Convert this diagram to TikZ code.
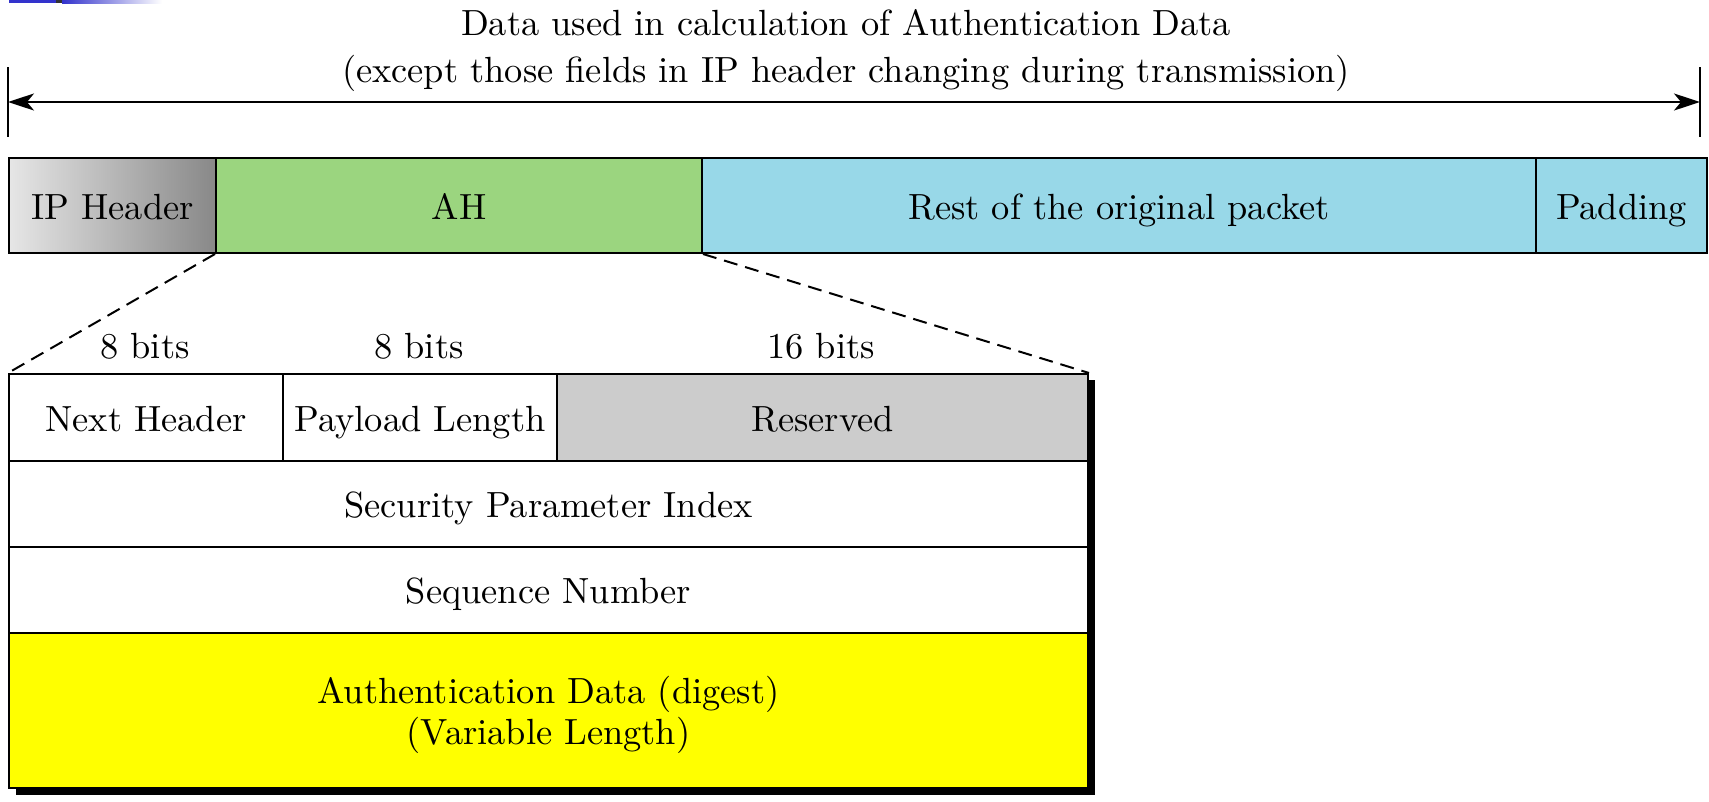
\documentclass[tikz,border=0pt]{standalone}
\usepackage{fontspec}
\setmainfont{lmroman10-regular}[Extension=.otf]
\usetikzlibrary{arrows.meta}
\definecolor{ahgreen}{RGB}{155,213,127}
\definecolor{pktblue}{RGB}{152,216,232}
\definecolor{resgray}{RGB}{204,204,204}
\definecolor{hdrlight}{RGB}{230,230,230}
\definecolor{hdrdark}{RGB}{136,136,136}
\definecolor{barblue}{RGB}{51,51,204}
\definecolor{digestyellow}{RGB}{255,255,0}
\begin{document}
\begin{tikzpicture}[x=1pt,y=-1pt,
  lbl/.style={font=\fontsize{36.4}{41}\selectfont, text height=27pt, text depth=0pt, inner sep=0pt},
  field/.style={lbl, draw=black, line width=2pt, anchor=north west},
  tick/.style={line width=2pt},
  span/.style={line width=2pt, {Stealth[length=26pt,width=17pt,inset=7pt]}-{Stealth[length=26pt,width=17pt,inset=7pt]}},
  zoomline/.style={line width=2pt, dash pattern=on 14pt off 8pt}]
\useasboundingbox (0,0) rectangle (1709,801);

% slide ribbon in the corner
\fill[barblue] (9,0) rectangle (56,3);
\fill[black!80] (56,0) rectangle (62,3);
\shade[left color=barblue, right color=white] (62,0) rectangle (162,3);

% span arrow with its end ticks
\coordinate (lt1) at (8,67);  \coordinate (lt2) at (8,137);
\coordinate (rt1) at (1700,67); \coordinate (rt2) at (1700,137);
\coordinate (la) at (8,102); \coordinate (ra) at (1700,102);
\draw[tick] (lt1) -- (lt2);
\draw[tick] (rt1) -- (rt2);
\draw[span] (la) -- (ra);
\node[lbl, align=center, font=\fontsize{36.4}{47}\selectfont, text height=74pt] (title) at (846,45)
  {Data used in calculation of Authentication Data\\(except those fields in IP header changing during transmission)};

% packet
\node[field, minimum width=207pt, minimum height=95pt,
      left color=hdrlight, right color=hdrdark] (ip) at (8,157) {IP Header};
\node[field, fill=ahgreen, minimum width=486pt, minimum height=95pt] (ah) at (215,157) {AH};
\node[field, fill=pktblue, minimum width=834pt, minimum height=95pt] (rest) at (701,157) {Rest of the original packet};
\node[field, fill=pktblue, minimum width=171pt, minimum height=95pt] (pad) at (1535,157) {Padding};

% AH header layout
\fill[black] (16,380) rectangle (1095,795);
\node[field, fill=white, minimum width=274pt, minimum height=87pt] (nh) at (8,373) {Next Header};
\node[field, fill=white, minimum width=274pt, minimum height=87pt] (pl) at (282,373) {Payload Length};
\node[field, fill=resgray, minimum width=531pt, minimum height=87pt] (res) at (556,373) {Reserved};
\node[field, fill=white, minimum width=1079pt, minimum height=86pt] (spi) at (8,460) {Security Parameter Index};
\node[field, fill=white, minimum width=1079pt, minimum height=86pt] (seq) at (8,546) {Sequence Number};
\node[field, fill=digestyellow, minimum width=1079pt, minimum height=155pt, align=center, text height=68pt] (auth) at (8,632)
  {Authentication Data (digest)\\(Variable Length)};

% field widths
\node[lbl, anchor=base] (b1) at (145,358) {8 bits};
\node[lbl, anchor=base] (b2) at (419,358) {8 bits};
\node[lbl, anchor=base] (b3) at (821,358) {16 bits};

% expansion of AH
\draw[zoomline] (ah.south west) -- (nh.north west);
\draw[zoomline] (ah.south east) -- (res.north east);
\end{tikzpicture}
\end{document}
